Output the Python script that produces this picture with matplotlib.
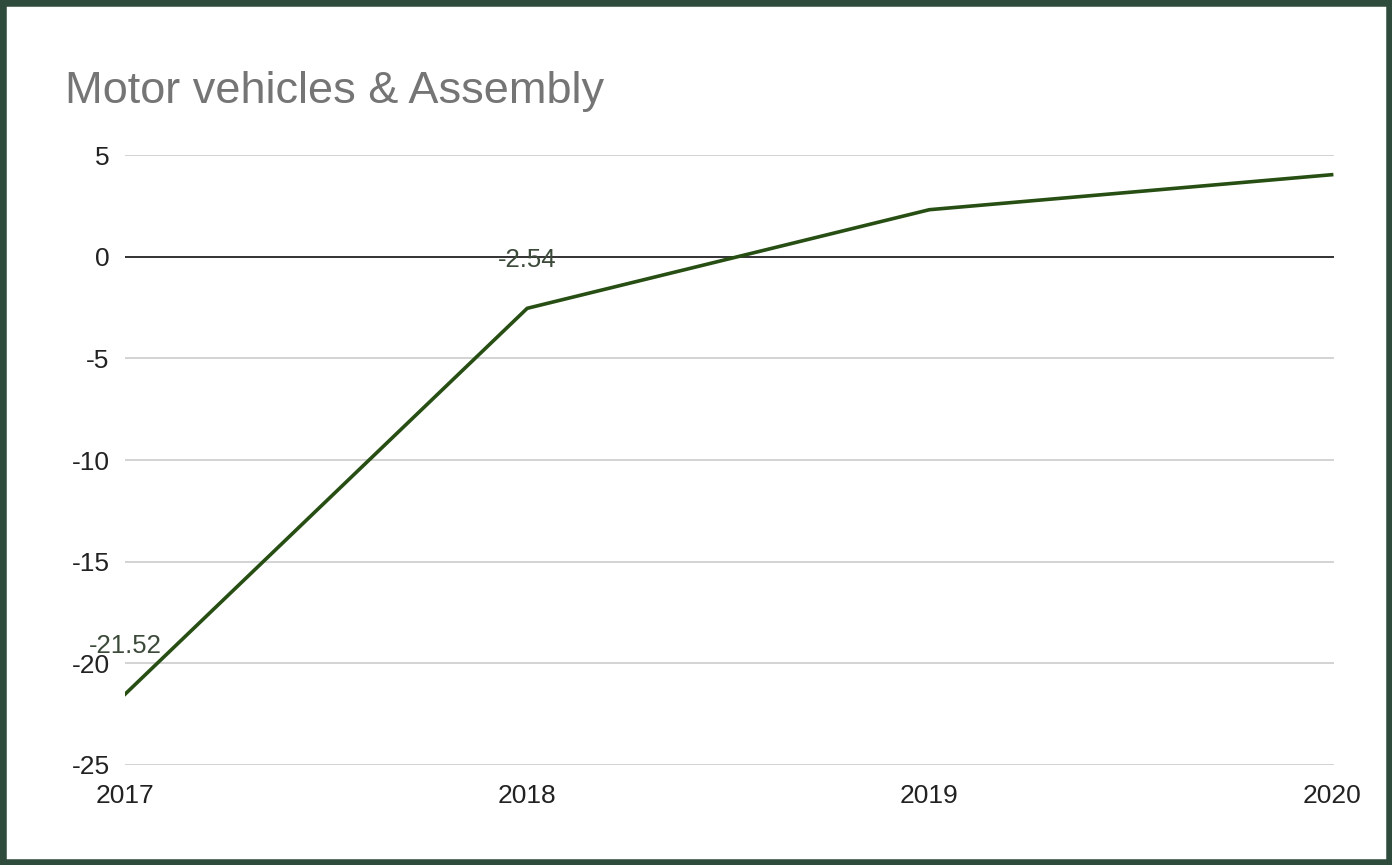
import matplotlib
matplotlib.use("Agg")
import matplotlib.pyplot as plt
from matplotlib.patches import Rectangle

# --- data ---
years = [2017, 2018, 2019, 2020]
values = [-21.52, -2.54, 2.31, 4.03]
labelled = {2017: "-21.52", 2018: "-2.54"}
y_ticks = [5, 0, -5, -10, -15, -20, -25]

LINE_COLOR = "#274e13"
FRAME_COLOR = "#2f4b3c"

plt.rcParams['font.family'] = ['Liberation Sans', 'DejaVu Sans']

fig = plt.figure(figsize=(13.92, 8.65), dpi=100)
ax = fig.add_axes([125 / 1392, 100 / 865, (1334 - 125) / 1392, 610 / 865])

ax.plot(years, values, color=LINE_COLOR, linewidth=2.6, solid_joinstyle='miter', zorder=3)

for yr, txt in labelled.items():
    v = values[years.index(yr)]
    ax.annotate(txt, (yr, v), xytext=(0, 35), textcoords='offset points',
                ha='center', va='center', fontsize=18.5, color='#3c4a3a', zorder=4)

ax.set_xlim(2017, 2020.006)
ax.set_ylim(-25, 5)
ax.set_yticks(y_ticks)
ax.set_yticklabels([str(t) for t in y_ticks])
ax.set_xticks(years)
ax.set_xticklabels([str(y) for y in years])
ax.tick_params(axis='y', length=0, pad=11, labelsize=19, labelcolor='#222222')
ax.tick_params(axis='x', length=0, pad=14, labelsize=19, labelcolor='#222222')

ax.grid(axis='y', color='#cccccc', linewidth=1.2)
ax.axhline(0, color='#333333', linewidth=1.4, zorder=2)
for s in ax.spines.values():
    s.set_visible(False)

fig.text(65 / 1392, 1 - 91 / 865, "Motor vehicles & Assembly", fontsize=32.5,
         color='#757575', ha='left', va='center')

# dark green frame around the whole picture
fig.patches.append(Rectangle((0, 0), 1, 1, transform=fig.transFigure, fill=False,
                             edgecolor=FRAME_COLOR, linewidth=9, zorder=10))

fig.savefig("out.png", dpi=100)
